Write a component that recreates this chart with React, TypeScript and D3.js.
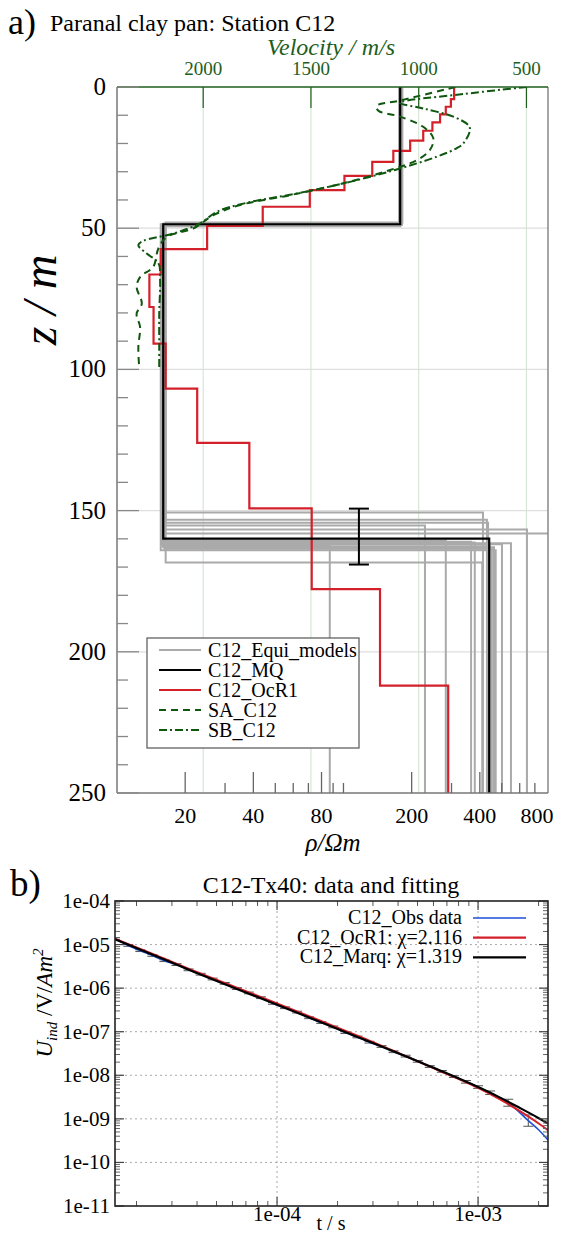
import React from "react";
import * as d3 from "d3";

// ---------------- Panel a data ----------------
const mqRho = [178, 16, 440];
const mqDepth = [48.6, 159.9];

const ocrRho = [308, 298, 283, 267, 247, 225, 197, 166, 134, 101, 71, 44, 25, 15.6, 13.9, 14.5, 16.4, 22.6, 38.4, 72.4, 145, 290];
const ocrDepth = [4.3, 7.0, 9.7, 12.5, 15.5, 19.0, 22.6, 26.5, 31.5, 36.5, 42.4, 49.2, 57.4, 66.4, 77.9, 90.9, 106.8, 126, 149.2, 177.8, 212];

const equiRho1 = [180, 176, 182, 178, 179, 177, 181, 178, 180, 176, 179, 177, 181, 178, 180, 179, 178];
const equiDepth1 = [48.3, 48.8, 48.0, 49.2, 48.5, 49.0, 48.6, 48.9, 48.4, 49.1, 48.7, 48.5, 48.9, 49.3, 48.2, 48.6, 49.0];
const equiRho2 = [16.2, 16.0, 16.4, 15.8, 16.1, 16.3, 16.0, 15.9, 16.2, 16.1, 15.7, 16.3, 15.9, 16.0, 16.4, 15.6, 16.2];
const equiDepth2 = [150.7, 153.2, 154.3, 155.3, 156.7, 158.1, 160.6, 161.0, 161.3, 161.6, 161.9, 162.3, 162.6, 163.0, 168.4, 164.0, 163.5];
const equiRho3 = [413, 430, 435, 229, 646, 900, 283, 366, 380, 549, 501, 87, 443, 462, 410, 470, 452];

const saDepth = [0, 4.8, 6.7, 8.4, 10.5, 14.1, 18.2, 22.3, 25.9, 29.4, 34.1, 38.3, 41.8, 45.4, 50.1, 53.1, 57.2, 63.7, 67.3, 70.8, 76.7, 80.3, 85, 92.1, 99.2];
const saVel = [830, 1087, 1195, 1187, 1087, 979, 932, 948, 1009, 1133, 1350, 1597, 1829, 1953, 2046, 2169, 2208, 2232, 2293, 2309, 2285, 2309, 2293, 2301, 2297];

const sbDepth = [0, 2.5, 5.6, 7.6, 10.5, 13.5, 15.2, 20, 21.7, 24.7, 29.2, 33.6, 37.7, 41, 44.2, 48.3, 51.9, 54.5, 56, 59, 62.3, 68.4, 80.3, 92.1, 100];
const sbVel = [499, 793, 1087, 979, 839, 770, 762, 793, 824, 917, 1102, 1319, 1566, 1798, 1937, 2015, 2139, 2278, 2301, 2262, 2208, 2200, 2204, 2204, 2204];

const errRho = 117;
const errDepth = [149.3, 169.1];

const velTicks = [2000, 1500, 1000, 500];
const rhoMajor = [20, 40, 80, 200, 400];
const rhoMinor = [30, 50, 60, 70, 90, 100, 300, 500, 600, 700];
const rhoLabels = [20, 40, 80, 200, 400, 800];
const depthLabels = [0, 50, 100, 150, 200, 250];
const depthGrid = [50, 100, 150, 200];

const legendA = ["C12_Equi_models", "C12_MQ", "C12_OcR1", "SA_C12", "SB_C12"];

// ---------------- Panel b data ----------------
const gateTimes = [1.563e-5, 1.82e-5, 2.089e-5, 2.399e-5, 2.754e-5, 3.162e-5, 3.631e-5, 4.169e-5, 4.786e-5, 5.495e-5, 6.31e-5, 7.244e-5, 8.318e-5, 9.55e-5, 1.096e-4, 1.259e-4, 1.445e-4, 1.66e-4, 1.905e-4, 2.188e-4, 2.512e-4, 2.884e-4, 3.311e-4, 3.802e-4, 4.365e-4, 5.012e-4, 5.754e-4, 6.607e-4, 7.586e-4, 8.71e-4, 1.0e-3, 1.148e-3, 1.413e-3, 1.778e-3, 2.0e-3, 2.228e-3];
const obsLog10U = [-4.86, -5.02, -5.14, -5.25, -5.37, -5.46, -5.58, -5.68, -5.79, -5.89, -6.01, -6.11, -6.22, -6.35, -6.45, -6.55, -6.68, -6.79, -6.89, -7.02, -7.12, -7.24, -7.34, -7.46, -7.56, -7.68, -7.8, -7.91, -8.03, -8.15, -8.27, -8.4, -8.63, -9.04, -9.25, -9.485];
const obsErr = [0.02, 0.02, 0.02, 0.02, 0.02, 0.02, 0.02, 0.02, 0.02, 0.02, 0.02, 0.02, 0.02, 0.02, 0.02, 0.02, 0.02, 0.02, 0.02, 0.02, 0.02, 0.02, 0.02, 0.02, 0.02, 0.02, 0.02, 0.02, 0.02, 0.03, 0.03, 0.04, 0.08, 0.13, 0, 0];

const fitTimes = [1.563e-5, 2.512e-5, 3.981e-5, 6.31e-5, 1.0e-4, 1.585e-4, 2.512e-4, 3.981e-4, 6.31e-4, 1.0e-3, 1.259e-3, 1.585e-3, 1.995e-3, 2.228e-3];
const ocrLog10U = [-4.87, -5.25, -5.63, -5.99, -6.35, -6.72, -7.09, -7.48, -7.88, -8.29, -8.53, -8.8, -9.1, -9.26];
const marqLog10U = [-4.88, -5.27, -5.65, -6.02, -6.38, -6.75, -7.12, -7.49, -7.87, -8.27, -8.49, -8.73, -8.98, -9.11];

const uDecades = [-11, -10, -9, -8, -7, -6, -5, -4];
const uGrid = [-10, -9, -8, -7, -6, -5];
const tLabels = [1e-4, 1e-3];
const legendB = ["C12_Obs data", "C12_OcR1: \u03c7=2.116", "C12_Marq: \u03c7=1.319"];

function layerPoints(rhos: number[], depths: number[], zMax: number): [number, number][] {
  const pts: [number, number][] = [];
  rhos.forEach((r, i) => {
    const top = i === 0 ? 0 : depths[i - 1];
    const bot = i < depths.length ? depths[i] : zMax;
    pts.push([r, top], [r, bot]);
  });
  return pts;
}

export default function App() {
  const W = 566, H = 1234;
  // ---------- panel a scales ----------
  const A = { l: 117, r: 548, t: 87, b: 793 };
  const xRho = d3.scaleLog().domain([10, 800]).range([A.l, A.r]);
  const xVel = d3.scaleLinear().domain([2400, 400]).range([A.l, A.r]);
  const yZ = d3.scaleLinear().domain([0, 250]).range([A.t, A.b]);
  const stepLine = d3.line<[number, number]>().x(d => xRho(d[0])).y(d => yZ(d[1]));
  const velLine = d3.line<[number, number]>().x(d => xVel(d[0])).y(d => yZ(d[1])).curve(d3.curveCatmullRom.alpha(0.5));

  const green = "#1d5e1d";
  const dGreen = "#0f560f";
  const saDash = "7,5";
  const sbDash = "8,3,2,3";

  const equiPaths = equiRho1.map((_, i) =>
    stepLine(layerPoints([equiRho1[i], equiRho2[i], equiRho3[i]], [equiDepth1[i], equiDepth2[i]], 250)) || ""
  );
  const mqPath = stepLine(layerPoints(mqRho, mqDepth, 250)) || "";
  const ocrPath = stepLine(layerPoints(ocrRho, ocrDepth, 250)) || "";
  const saPath = velLine(saDepth.map((z, i) => [saVel[i], z] as [number, number])) || "";
  const sbPath = velLine(sbDepth.map((z, i) => [sbVel[i], z] as [number, number])) || "";

  const zTicks = d3.range(0, 251, 10);

  // ---------- panel b scales ----------
  const B = { l: 115, r: 548, t: 901, b: 1206 };
  const xT = d3.scaleLog().domain([1.563e-5, 2.228e-3]).range([B.l, B.r]);
  const yU = d3.scaleLog().domain([1e-11, 1e-4]).range([B.b, B.t]);
  const bLine = d3.line<[number, number]>().x(d => xT(d[0])).y(d => yU(Math.pow(10, d[1]))).curve(d3.curveMonotoneX);
  const obsPath = bLine(gateTimes.map((t, i) => [t, obsLog10U[i]] as [number, number])) || "";
  const ocrBPath = bLine(fitTimes.map((t, i) => [t, ocrLog10U[i]] as [number, number])) || "";
  const marqPath = bLine(fitTimes.map((t, i) => [t, marqLog10U[i]] as [number, number])) || "";

  const uMinor: number[] = [];
  uDecades.slice(0, -1).forEach(d => { for (let k = 2; k <= 9; k++) uMinor.push(k * Math.pow(10, d)); });
  const tMinor: number[] = [];
  [-5, -4, -3].forEach(d => {
    for (let k = 2; k <= 9; k++) {
      const v = k * Math.pow(10, d);
      if (v > 1.563e-5 && v < 2.228e-3) tMinor.push(v);
    }
  });

  return (
    <svg width={W} height={H} style={{ position: "absolute", left: 0, top: 0, background: "#fff" }}>
      <style>{`text, tspan { font-family: "Liberation Serif", "DejaVu Serif", "Times New Roman", serif; }`}</style>
      <defs>
        <clipPath id="clipA"><rect x={A.l} y={A.t} width={A.r - A.l} height={A.b - A.t} /></clipPath>
        <clipPath id="clipB"><rect x={B.l} y={B.t} width={B.r - B.l} height={B.b - B.t} /></clipPath>
      </defs>
      <rect x={0} y={0} width={W} height={H} fill="#fff" />

      {/* ================= Panel a ================= */}
      <text x={8} y={34} fontSize={36}>a)</text>
      <text x={50} y={31} fontSize={24}>Paranal clay pan: Station C12</text>
      <text x={331} y={55} fontSize={24} fontStyle="italic" fill={green} textAnchor="middle">Velocity / m/s</text>
      {velTicks.map(v => (
        <text key={"vl" + v} x={xVel(v)} y={75} fontSize={19} fill={green} textAnchor="middle">{v}</text>
      ))}

      {/* grid */}
      {velTicks.map(v => (
        <line key={"vg" + v} x1={xVel(v)} x2={xVel(v)} y1={A.t} y2={A.b} stroke="#d6e6d6" strokeWidth={1.2} />
      ))}
      {depthGrid.map(z => (
        <line key={"zg" + z} x1={A.l} x2={A.r} y1={yZ(z)} y2={yZ(z)} stroke="#dedede" strokeWidth={1.2} />
      ))}

      <g clipPath="url(#clipA)">
        {equiPaths.map((p, i) => (
          <path key={"eq" + i} d={p} fill="none" stroke="#aaaaaa" strokeWidth={2} />
        ))}
        <path d={ocrPath} fill="none" stroke="#d4202a" strokeWidth={2.2} />
        <path d={mqPath} fill="none" stroke="#000" strokeWidth={2.2} />
        <path d={saPath} fill="none" stroke={dGreen} strokeWidth={2} strokeDasharray={saDash} />
        <path d={sbPath} fill="none" stroke={dGreen} strokeWidth={2} strokeDasharray={sbDash} />
        {/* error bar */}
        <g stroke="#000" strokeWidth={2}>
          <line x1={xRho(errRho)} x2={xRho(errRho)} y1={yZ(errDepth[0])} y2={yZ(errDepth[1])} />
          <line x1={xRho(errRho) - 10} x2={xRho(errRho) + 10} y1={yZ(errDepth[0])} y2={yZ(errDepth[0])} />
          <line x1={xRho(errRho) - 10} x2={xRho(errRho) + 10} y1={yZ(errDepth[1])} y2={yZ(errDepth[1])} />
        </g>
      </g>

      {/* frame */}
      <line x1={A.l} x2={A.l} y1={A.t} y2={A.b} stroke="#777" strokeWidth={1.5} />
      <line x1={A.r} x2={A.r} y1={A.t} y2={A.b} stroke="#888" strokeWidth={1.5} />
      <line x1={A.l} x2={A.r} y1={A.b} y2={A.b} stroke="#777" strokeWidth={1.5} />
      <line x1={A.l} x2={A.r} y1={A.t} y2={A.t} stroke={green} strokeWidth={1.5} />

      {/* top velocity ticks */}
      {velTicks.map(v => (
        <line key={"vt" + v} x1={xVel(v)} x2={xVel(v)} y1={A.t} y2={A.t + 21} stroke={green} strokeWidth={1.2} />
      ))}
      {/* left depth ticks */}
      {zTicks.map(z => (
        <line key={"zt" + z} x1={A.l} x2={A.l + (z % 50 === 0 ? 22 : 11)} y1={yZ(z)} y2={yZ(z)} stroke="#888" strokeWidth={1.3} />
      ))}
      {depthLabels.map(z => (
        <text key={"zl" + z} x={106} y={yZ(z) + 8} fontSize={25} textAnchor="end">{z}</text>
      ))}
      {/* bottom rho ticks */}
      {rhoMajor.map(r => (
        <line key={"rM" + r} x1={xRho(r)} x2={xRho(r)} y1={A.b} y2={A.b - 21} stroke="#666" strokeWidth={1.3} />
      ))}
      {rhoMinor.map(r => (
        <line key={"rm" + r} x1={xRho(r)} x2={xRho(r)} y1={A.b} y2={A.b - 10} stroke="#666" strokeWidth={1.3} />
      ))}
      {rhoLabels.map((r, i) => (
        <text key={"rl" + r} x={i === rhoLabels.length - 1 ? xRho(r) - 11 : xRho(r)} y={823} fontSize={22} textAnchor="middle">{r}</text>
      ))}
      <text x={333} y={851} fontSize={25} fontStyle="italic" textAnchor="middle">{"\u03c1/\u03a9m"}</text>
      <text transform="translate(56,300) rotate(-90)" fontSize={48} fontStyle="italic" textAnchor="middle">z / m</text>

      {/* legend a */}
      <rect x={147} y={638} width={212} height={110} fill="#fff" stroke="#555" strokeWidth={1.2} />
      {legendA.map((name, i) => {
        const y = 650 + 20 * i;
        const stroke = i === 0 ? "#aaaaaa" : i === 1 ? "#000" : i === 2 ? "#d4202a" : dGreen;
        const dash = i === 3 ? saDash : i === 4 ? sbDash : undefined;
        return (
          <g key={"la" + name}>
            <line x1={159} x2={201} y1={y} y2={y} stroke={stroke} strokeWidth={2} strokeDasharray={dash} />
            <text x={208} y={y + 7} fontSize={20}>{name}</text>
          </g>
        );
      })}

      {/* ================= Panel b ================= */}
      <text x={10} y={896} fontSize={37}>b)</text>
      <text x={331} y={893} fontSize={24} textAnchor="middle">C12-Tx40: data and fitting</text>

      {uGrid.map(d => (
        <line key={"ug" + d} x1={B.l} x2={B.r} y1={yU(Math.pow(10, d))} y2={yU(Math.pow(10, d))} stroke="#aaa" strokeWidth={1} strokeDasharray="2,3" />
      ))}
      {tLabels.map(t => (
        <line key={"tg" + t} x1={xT(t)} x2={xT(t)} y1={B.t} y2={B.b} stroke="#aaa" strokeWidth={1} strokeDasharray="2,3" />
      ))}

      <g clipPath="url(#clipB)">
        <g stroke="#555" strokeWidth={1}>
          {gateTimes.map((t, i) => obsErr[i] > 0 ? (
            <g key={"eb" + i}>
              <line x1={xT(t)} x2={xT(t)} y1={yU(Math.pow(10, obsLog10U[i] + obsErr[i]))} y2={yU(Math.pow(10, obsLog10U[i] - obsErr[i]))} />
              <line x1={xT(t) - 5} x2={xT(t) + 5} y1={yU(Math.pow(10, obsLog10U[i] - obsErr[i]))} y2={yU(Math.pow(10, obsLog10U[i] - obsErr[i]))} />
              <line x1={xT(t) - 5} x2={xT(t) + 5} y1={yU(Math.pow(10, obsLog10U[i] + obsErr[i]))} y2={yU(Math.pow(10, obsLog10U[i] + obsErr[i]))} />
            </g>
          ) : null)}
        </g>
        <path d={obsPath} fill="none" stroke="#1d4fd8" strokeWidth={1.6} />
        <path d={ocrBPath} fill="none" stroke="#d4202a" strokeWidth={2} />
        <path d={marqPath} fill="none" stroke="#000" strokeWidth={2.2} />
      </g>

      {/* ticks b */}
      {uDecades.map(d => (
        <g key={"uM" + d} stroke="#444" strokeWidth={1.2}>
          <line x1={B.l} x2={B.l + 9} y1={yU(Math.pow(10, d))} y2={yU(Math.pow(10, d))} />
          <line x1={B.r} x2={B.r - 9} y1={yU(Math.pow(10, d))} y2={yU(Math.pow(10, d))} />
        </g>
      ))}
      {uMinor.map((v, i) => (
        <g key={"um" + i} stroke="#666" strokeWidth={1}>
          <line x1={B.l} x2={B.l + 5} y1={yU(v)} y2={yU(v)} />
          <line x1={B.r} x2={B.r - 5} y1={yU(v)} y2={yU(v)} />
        </g>
      ))}
      {tLabels.map(t => (
        <g key={"tM" + t} stroke="#444" strokeWidth={1.2}>
          <line x1={xT(t)} x2={xT(t)} y1={B.b} y2={B.b - 9} />
          <line x1={xT(t)} x2={xT(t)} y1={B.t} y2={B.t + 9} />
        </g>
      ))}
      {tMinor.map((v, i) => (
        <g key={"tm" + i} stroke="#555" strokeWidth={1}>
          <line x1={xT(v)} x2={xT(v)} y1={B.b} y2={B.b - 5} />
          <line x1={xT(v)} x2={xT(v)} y1={B.t} y2={B.t + 5} />
        </g>
      ))}
      <rect x={B.l} y={B.t} width={B.r - B.l} height={B.b - B.t} fill="none" stroke="#222" strokeWidth={1.6} />

      {uDecades.map(d => (
        <text key={"ul" + d} x={110} y={yU(Math.pow(10, d)) + 7} fontSize={21} textAnchor="end">
          {"1e" + (d < 0 ? "-" : "") + String(Math.abs(d)).padStart(2, "0")}
        </text>
      ))}
      {tLabels.map(t => (
        <text key={"tl" + t} x={xT(t)} y={1221} fontSize={21} textAnchor="middle">
          {"1e-" + String(Math.round(-Math.log10(t))).padStart(2, "0")}
        </text>
      ))}
      <text x={331} y={1230} fontSize={20} textAnchor="middle">t / s</text>
      <text transform="translate(52,1003) rotate(-90)" fontSize={23} textAnchor="middle">
        <tspan fontStyle="italic">U</tspan>
        <tspan fontStyle="italic" fontSize={15} dy={5}>ind</tspan>
        <tspan dy={-5}> /V/</tspan>
        <tspan fontStyle="italic">Am</tspan>
        <tspan fontStyle="italic" fontSize={15} dy={-9}>2</tspan>
      </text>

      {/* legend b */}
      {legendB.map((name, i) => {
        const y = 918 + 19.7 * i;
        const stroke = i === 0 ? "#1d4fd8" : i === 1 ? "#d4202a" : "#000";
        return (
          <g key={"lb" + i}>
            <text x={462} y={y + 6} fontSize={20} textAnchor="end">{name}</text>
            <line x1={473} x2={526} y1={y} y2={y} stroke={stroke} strokeWidth={i === 0 ? 1.6 : 2.2} />
          </g>
        );
      })}
    </svg>
  );
}
